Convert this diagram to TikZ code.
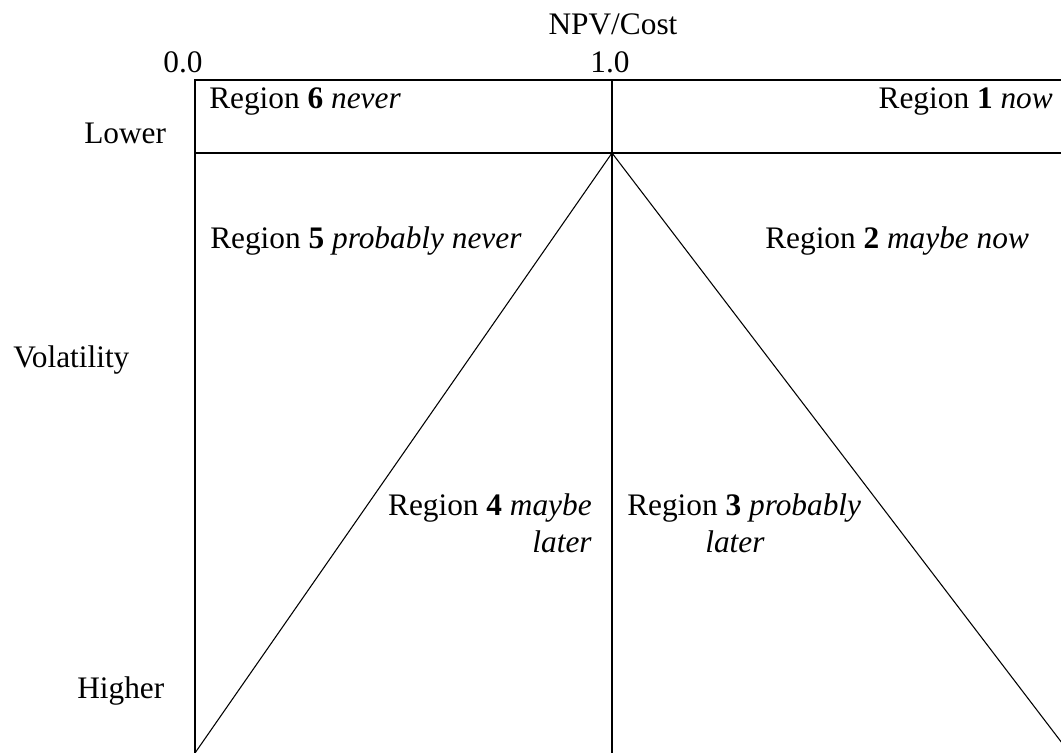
\documentclass[tikz,border=0pt]{standalone}
\usepackage{fontspec}
\setmainfont{Liberation Serif}
\begin{document}
\begin{tikzpicture}[x=0.75pt,y=-0.75pt,
  lbl/.style={inner sep=0pt, font=\fontsize{23.5}{28}\selectfont},
  frameline/.style={line width=1.6pt},
  diagline/.style={line width=0.8pt}]
\useasboundingbox (0,0) rectangle (1061,753);
\coordinate (tl) at (195,80);
\coordinate (tr) at (1075,80);
\coordinate (ml) at (195,153);
\coordinate (mr) at (1075,153);
\coordinate (tm) at (612,80);
\coordinate (apex) at (612,153);
\coordinate (bl) at (195,760);
\coordinate (bm) at (612,760);
\coordinate (dl) at (195,753);
\coordinate (dr) at (1075,760);
\begin{scope}
\clip (0,0) rectangle (1061,753);
\draw[frameline] (tr) -- (tl) -- (bl);
\draw[frameline] (ml) -- (mr);
\draw[frameline] (tm) -- (bm);
\draw[diagline] (dl) -- (apex) -- (dr);
\end{scope}
% axis labels
\node[lbl, anchor=base] (npv) at (613,35) {NPV/Cost};
\node[lbl, anchor=base] (zero) at (183,72) {0.0};
\node[lbl, anchor=base] (one) at (610,72) {1.0};
\node[lbl, anchor=base west] (lower) at (84,143) {Lower};
\node[lbl, anchor=base west] (vol) at (13,367) {Volatility};
\node[lbl, anchor=base west] (higher) at (77,698) {Higher};
% regions
\node[lbl, anchor=base west] (r6) at (209,108) {Region \textbf{6} \textit{never}};
\node[lbl, anchor=base east] (r1) at (1053,108) {Region \textbf{1} \textit{now}};
\node[lbl, anchor=base west] (r5) at (210,248) {Region \textbf{5} \textit{probably never}};
\node[lbl, anchor=base west] (r2) at (765,248) {Region \textbf{2} \textit{maybe now}};
\node[lbl, anchor=base east] (r4a) at (592,515) {Region \textbf{4} \textit{maybe}};
\node[lbl, anchor=base east] (r4b) at (592,552) {\textit{later}};
\node[lbl, anchor=base west] (r3a) at (627,515) {Region \textbf{3} \textit{probably}};
\node[lbl, anchor=base] (r3b) at (735,552) {\textit{later}};
\end{tikzpicture}
\end{document}
